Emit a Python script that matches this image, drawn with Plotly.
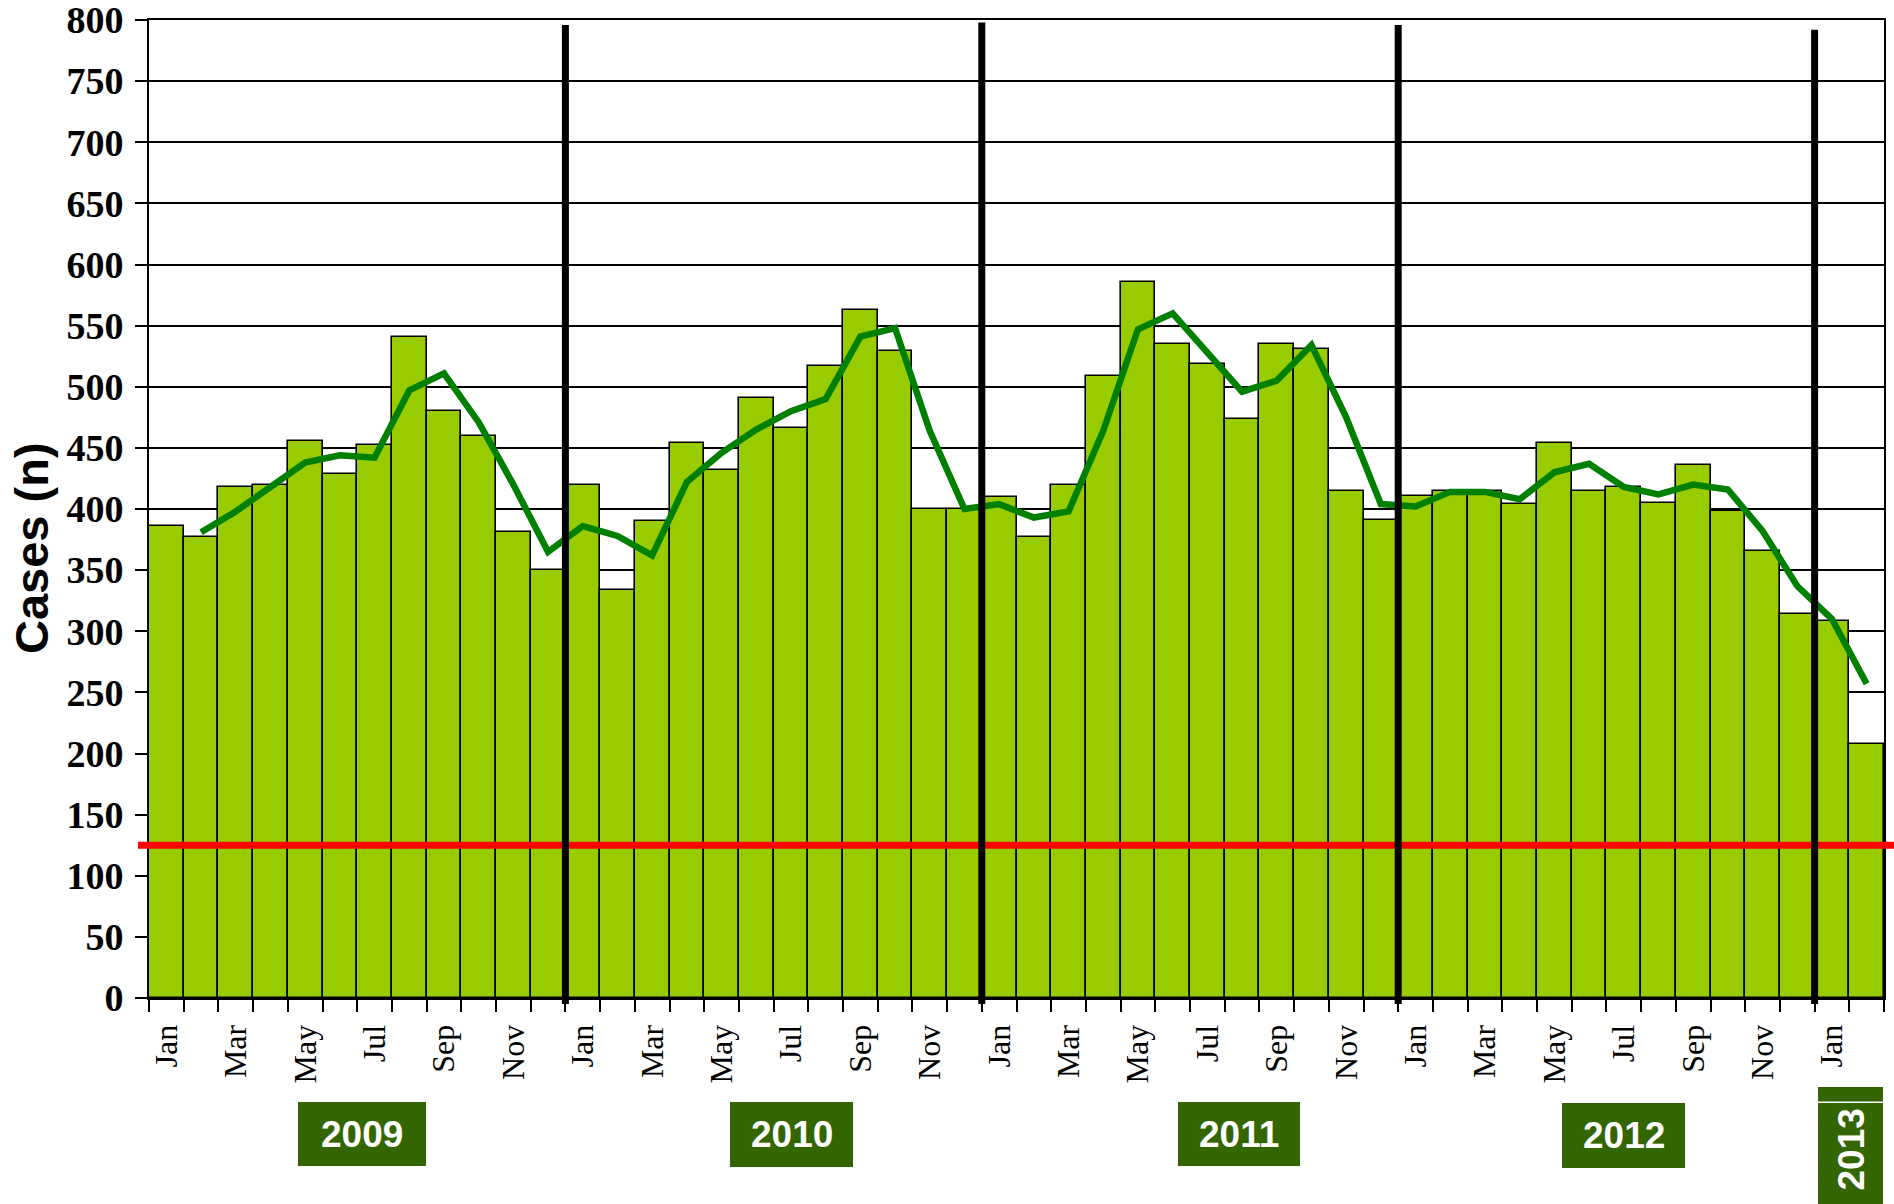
import plotly.graph_objects as go

# ---------------- data ----------------
MONTHS = ['Jan', 'Feb', 'Mar', 'Apr', 'May', 'Jun', 'Jul', 'Aug', 'Sep', 'Oct', 'Nov', 'Dec']
YEARS = [2009, 2010, 2011, 2012, 2013]
MONTHS_2013 = 2  # Jan, Feb 2013

cases = [
    386, 377, 418, 420, 456, 429, 452, 541, 480, 460, 381, 350,   # 2009
    420, 334, 390, 454, 432, 491, 466, 517, 563, 529, 400, 400,   # 2010
    410, 377, 420, 509, 586, 535, 519, 474, 535, 531, 415, 391,   # 2011
    411, 415, 415, 404, 454, 415, 418, 405, 436, 398, 366, 314,   # 2012
    308, 208,                                                     # 2013
]

# moving average, starting Feb 2009
trend = [
    381, 398, 418, 438, 444, 442, 497, 511, 471, 420, 365,
    386, 378, 362, 422, 446, 465, 480, 490, 541, 548, 464, 400,
    404, 393, 398, 464, 547, 560, 527, 496, 505, 534, 475, 404,
    402, 414, 414, 408, 430, 437, 418, 412, 420, 416, 382, 337,
    310, 257,
]

TARGET = 125
TICK_MONTHS = ['Jan', 'Mar', 'May', 'Jul', 'Sep', 'Nov']

# ---------------- build ----------------
periods = []
for y in YEARS:
    n = 12 if y != 2013 else MONTHS_2013
    for m in range(n):
        periods.append((y, MONTHS[m]))

xi = list(range(len(periods)))
trend_x = xi[len(xi) - len(trend):]

W, H = 1894, 1204
ML, MR, MT, MB = 149, 10, 20, 206
PW = W - ML - MR
PH = H - MT - MB
XR = [-0.5, len(periods) - 0.5]
YR = [0, 800]


def px_x(px):
    return (px - ML) / PW


def px_y(py):
    return (H - MB - py) / PH


def data_x_to_paper(x):
    return (x - XR[0]) / (XR[1] - XR[0])


fig = go.Figure()
fig.add_trace(go.Bar(
    x=xi, y=cases, width=1.0,
    marker=dict(color='#99CC00', line=dict(color='black', width=1.6)),
    showlegend=False,
))
fig.add_trace(go.Scatter(
    x=trend_x, y=trend, mode='lines',
    line=dict(color='#008000', width=6.5),
    showlegend=False,
))

tickvals = [i for i, p in enumerate(periods) if p[1] in TICK_MONTHS]
ticktext = [periods[i][1] for i in tickvals]
boundaries = [i - 0.5 for i in range(len(periods) + 1)]

shapes = []
# red target line
shapes.append(dict(type='line', xref='paper', yref='paper',
                   x0=px_x(138), x1=px_x(1894), y0=TARGET / YR[1], y1=TARGET / YR[1],
                   line=dict(color='#FF0000', width=7), layer='above'))
# year separators
tops = {2010: 796, 2011: 798, 2012: 796, 2013: 792}
for i, p in enumerate(periods):
    if p[1] == 'Jan' and i > 0:
        xp = data_x_to_paper(i - 0.5)
        shapes.append(dict(type='line', xref='paper', yref='paper',
                           x0=xp, x1=xp, y0=px_y(1004), y1=tops[p[0]] / YR[1],
                           line=dict(color='black', width=7), layer='above'))

# year boxes (pixel extents)
boxes = {
    2009: (298, 426, 1102, 1166),
    2010: (730, 853, 1102, 1167),
    2011: (1178, 1300, 1102, 1166),
    2012: (1562, 1685, 1103, 1168),
    2013: (1818, 1883, 1103, 1204),
}
annotations = []
for y, (x0, x1, y0, y1) in boxes.items():
    shapes.append(dict(type='rect', xref='paper', yref='paper',
                       x0=px_x(x0), x1=px_x(x1), y0=px_y(y1), y1=px_y(y0),
                       fillcolor='#336600', line=dict(width=0), layer='above'))
    annotations.append(dict(
        text=str(y), xref='paper', yref='paper',
        x=px_x((x0 + x1) / 2), y=px_y((y0 + y1) / 2 if y != 2013 else 1150),
        xanchor='center', yanchor='middle', showarrow=False,
        textangle=-90 if y == 2013 else 0,
        font=dict(family='Liberation Sans', size=37, color='white', weight='bold'),
    ))
# small strip above 2013 box
shapes.append(dict(type='rect', xref='paper', yref='paper',
                   x0=px_x(1818), x1=px_x(1883), y0=px_y(1101.5), y1=px_y(1087),
                   fillcolor='#336600', line=dict(width=0), layer='above'))

annotations.append(dict(
    text='Cases (n)', xref='paper', yref='paper',
    x=px_x(31), y=px_y(548), xanchor='center', yanchor='middle',
    showarrow=False, textangle=-90,
    font=dict(family='Liberation Sans', size=47, color='black', weight='bold'),
))

fig.update_layout(
    width=W, height=H,
    margin=dict(l=ML, r=MR, t=MT, b=MB, pad=0, autoexpand=False),
    paper_bgcolor='white', plot_bgcolor='white',
    bargap=0,
    shapes=shapes,
    annotations=annotations,
    xaxis=dict(
        range=XR, tickmode='array', tickvals=tickvals, ticktext=ticktext,
        tickangle=-90, ticks='', showgrid=False, zeroline=False, automargin=False,
        showline=True, linecolor='black', linewidth=2, mirror=True,
        tickfont=dict(family='Liberation Serif', size=32, color='black'),
        ticklabelstandoff=12, ticklabeloverflow='allow',
        minor=dict(tickmode='array', tickvals=boundaries, ticks='outside',
                   ticklen=12, tickwidth=2, tickcolor='black', showgrid=False),
    ),
    yaxis=dict(
        range=YR, dtick=50, tick0=0, showgrid=True, gridcolor='black', gridwidth=2,
        zeroline=False, showline=True, linecolor='black', linewidth=2, mirror=True,
        automargin=False, ticklabeloverflow='allow',
        ticks='outside', ticklen=12, tickwidth=2, tickcolor='black',
        tickfont=dict(family='Liberation Serif', size=38, color='black', weight='bold'),
        ticklabelstandoff=4,
    ),
)

fig.write_html("out.html", config={'displayModeBar': False},
               post_script="document.body.style.margin='0px';document.body.style.overflow='hidden';")
